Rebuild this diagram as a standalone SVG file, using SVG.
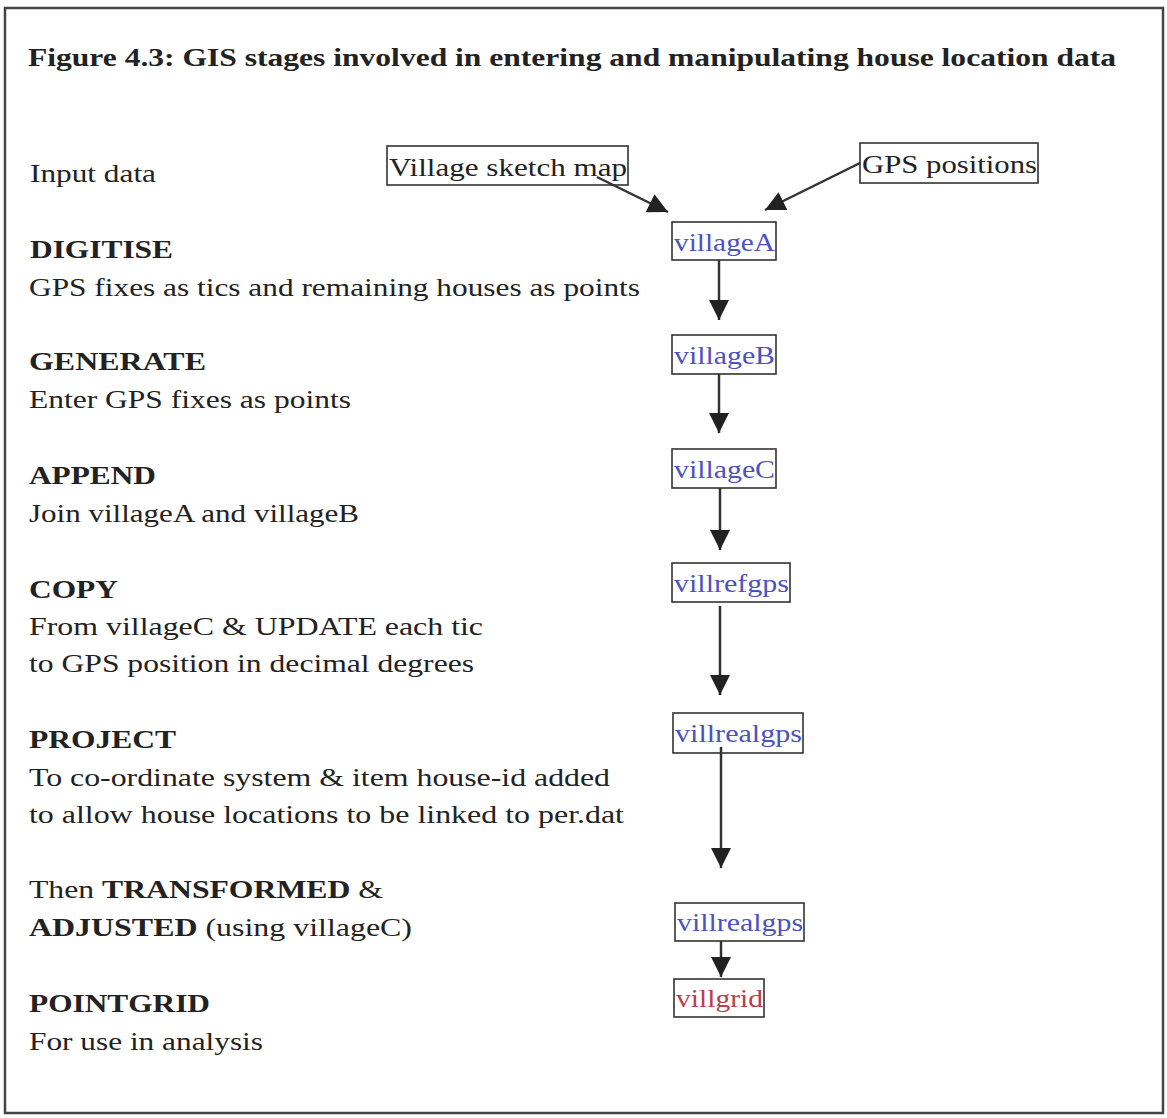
<svg xmlns="http://www.w3.org/2000/svg" width="1167" height="1118" viewBox="0 0 1167 1118" font-family="'Liberation Serif', 'Times New Roman', Times, Tinos, serif">
<style>
text{font-family:"Liberation Serif","Times New Roman",Times,Tinos,serif;font-size:25.5px;fill:#222}
.b{font-weight:bold}
.box{fill:#fff;stroke:#333;stroke-width:1.6}
.blue{fill:#4a52c4}
.red{fill:#c23a48}
.conn line{stroke:#333;stroke-width:2.5}
</style>
<defs>
<marker id="ah" markerUnits="userSpaceOnUse" markerWidth="22" markerHeight="22" refX="20" refY="10" orient="auto">
<path d="M0,0 L20,10 L0,20 z" fill="#222"/>
</marker>
</defs>
<rect x="0" y="0" width="1167" height="1118" fill="#fff"/>
<rect x="5" y="8" width="1158" height="1105" fill="none" stroke="#444" stroke-width="2.5"/>
<text class="b" x="28" y="66" textLength="1088" lengthAdjust="spacingAndGlyphs">Figure 4.3: GIS stages involved in entering and manipulating house location data</text>
<g id="labels">
<text x="30" y="182" textLength="126" lengthAdjust="spacingAndGlyphs">Input data</text>
<text class="b" x="30" y="258" textLength="143" lengthAdjust="spacingAndGlyphs">DIGITISE</text>
<text x="29" y="296" textLength="611" lengthAdjust="spacingAndGlyphs">GPS fixes as tics and remaining houses as points</text>
<text class="b" x="29" y="370" textLength="177" lengthAdjust="spacingAndGlyphs">GENERATE</text>
<text x="29" y="408" textLength="322" lengthAdjust="spacingAndGlyphs">Enter GPS fixes as points</text>
<text class="b" x="29" y="484" textLength="127" lengthAdjust="spacingAndGlyphs">APPEND</text>
<text x="29" y="522" textLength="330" lengthAdjust="spacingAndGlyphs">Join villageA and villageB</text>
<text class="b" x="29" y="598" textLength="89" lengthAdjust="spacingAndGlyphs">COPY</text>
<text x="29" y="635" textLength="454" lengthAdjust="spacingAndGlyphs">From villageC &amp; UPDATE each tic</text>
<text x="29" y="672" textLength="445" lengthAdjust="spacingAndGlyphs">to GPS position in decimal degrees</text>
<text class="b" x="29" y="748" textLength="147" lengthAdjust="spacingAndGlyphs">PROJECT</text>
<text x="29" y="786" textLength="581" lengthAdjust="spacingAndGlyphs">To co-ordinate system &amp; item house-id added</text>
<text x="29" y="823" textLength="595" lengthAdjust="spacingAndGlyphs">to allow house locations to be linked to per.dat</text>
<text x="29" y="898" textLength="354" lengthAdjust="spacingAndGlyphs">Then <tspan class="b">TRANSFORMED</tspan> &amp;</text>
<text x="29" y="936" textLength="383" lengthAdjust="spacingAndGlyphs"><tspan class="b">ADJUSTED</tspan> (using villageC)</text>
<text class="b" x="29" y="1012" textLength="181" lengthAdjust="spacingAndGlyphs">POINTGRID</text>
<text x="29" y="1050" textLength="234" lengthAdjust="spacingAndGlyphs">For use in analysis</text>
</g>
<g id="n-sketch"><rect class="box" x="387" y="146" width="241" height="39"/><text x="389" y="176" textLength="238" lengthAdjust="spacingAndGlyphs">Village sketch map</text></g>
<g id="n-gps"><rect class="box" x="860" y="143" width="178" height="40"/><text x="862" y="173" textLength="175" lengthAdjust="spacingAndGlyphs">GPS positions</text></g>
<g id="n-villageA"><rect class="box" x="672" y="222" width="104" height="38"/><text class="blue" x="674" y="251" textLength="101" lengthAdjust="spacingAndGlyphs">villageA</text></g>
<g id="n-villageB"><rect class="box" x="672" y="335" width="104" height="39"/><text class="blue" x="674" y="364" textLength="101" lengthAdjust="spacingAndGlyphs">villageB</text></g>
<g id="n-villageC"><rect class="box" x="672" y="449" width="104" height="39"/><text class="blue" x="674" y="478" textLength="101" lengthAdjust="spacingAndGlyphs">villageC</text></g>
<g id="n-villrefgps"><rect class="box" x="672" y="563" width="118" height="39"/><text class="blue" x="674" y="592" textLength="115" lengthAdjust="spacingAndGlyphs">villrefgps</text></g>
<g id="n-villrealgps1"><rect class="box" x="673" y="713" width="130" height="40"/><text class="blue" x="675" y="742" textLength="127" lengthAdjust="spacingAndGlyphs">villrealgps</text></g>
<g id="n-villrealgps2"><rect class="box" x="675" y="903" width="129" height="38"/><text class="blue" x="677" y="931" textLength="126" lengthAdjust="spacingAndGlyphs">villrealgps</text></g>
<g id="n-villgrid"><rect class="box" x="674" y="979" width="90" height="38"/><text class="red" x="676" y="1007" textLength="87" lengthAdjust="spacingAndGlyphs">villgrid</text></g>
<g id="connectors" class="conn">
<line x1="597" y1="177" x2="668" y2="212" marker-end="url(#ah)"/>
<line x1="860" y1="163" x2="765" y2="210" marker-end="url(#ah)"/>
<line x1="719" y1="260" x2="719" y2="320" marker-end="url(#ah)"/>
<line x1="719" y1="374" x2="719" y2="433" marker-end="url(#ah)"/>
<line x1="720" y1="488" x2="720" y2="550" marker-end="url(#ah)"/>
<line x1="720" y1="606" x2="720" y2="695" marker-end="url(#ah)"/>
<line x1="721" y1="747" x2="721" y2="868" marker-end="url(#ah)"/>
<line x1="721" y1="941" x2="721" y2="977" marker-end="url(#ah)"/>
</g>
</svg>
